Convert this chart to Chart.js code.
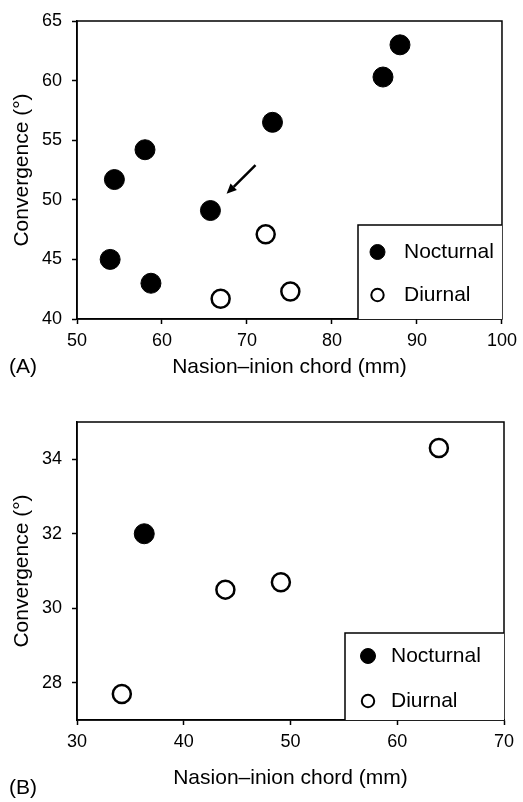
<!DOCTYPE html>
<html>
<head>
<meta charset="utf-8">
<script src="https://cdn.jsdelivr.net/npm/chart.js@4.4.1/dist/chart.umd.min.js"></script>
<style>
  html, body { margin: 0; padding: 0; background: #fff; }
  canvas { display: block; }
</style>
</head>
<body>
<canvas id="chartA" width="523" height="400"></canvas>
<canvas id="chartB" width="523" height="402"></canvas>
<script>
// ── Panel A ──────────────────────────────────────────────
const nocturnalAX = [53.9, 54.4, 58.0, 58.7, 65.7, 73.0, 86.0, 88.0];
const nocturnalAY = [45.0, 51.7, 54.2, 43.0, 49.1, 56.5, 60.3, 63.0];
const diurnalAX = [66.9, 72.2, 75.1];
const diurnalAY = [41.7, 47.1, 42.3];
const xTicksA = [50, 60, 70, 80, 90, 100];
const yTicksA = [40, 45, 50, 55, 60, 65];
const arrowA = [[71.0, 52.9], [67.6, 50.5]]; // tail, head (data units)

// ── Panel B ──────────────────────────────────────────────
const nocturnalBX = [36.3];
const nocturnalBY = [32.0];
const diurnalBX = [34.2, 43.9, 49.1, 63.9];
const diurnalBY = [27.7, 30.5, 30.7, 34.3];
const xTicksB = [30, 40, 50, 60, 70];
const yTicksB = [28, 30, 32, 34];

const seriesNames = ['Nocturnal', 'Diurnal'];
const xTitle = 'Nasion–inion chord (mm)';
const yTitle = 'Convergence (°)';

const FONT = '"Liberation Sans", Arial, Helvetica, sans-serif';
const pts = (xs, ys) => xs.map((x, i) => ({ x, y: ys[i] }));

// frame, arrow, legend box, panel letter
const decor = {
  id: 'decor',
  afterDatasetsDraw(chart, args, o) {
    const { ctx, chartArea: a, scales: { x, y } } = chart;
    ctx.save();
    ctx.strokeStyle = '#000';
    ctx.lineWidth = 1.5;
    ctx.strokeRect(a.left, a.top, a.right - a.left, a.bottom - a.top);

    if (o.arrow) {
      const x0 = x.getPixelForValue(o.arrow[0][0]), y0 = y.getPixelForValue(o.arrow[0][1]);
      const x1 = x.getPixelForValue(o.arrow[1][0]), y1 = y.getPixelForValue(o.arrow[1][1]);
      const ang = Math.atan2(y1 - y0, x1 - x0), hl = 10, hw = 4.5;
      const bx = x1 - hl * Math.cos(ang), by = y1 - hl * Math.sin(ang);
      ctx.lineWidth = 2.5;
      ctx.beginPath(); ctx.moveTo(x0, y0); ctx.lineTo(bx, by); ctx.stroke();
      ctx.fillStyle = '#000';
      ctx.beginPath();
      ctx.moveTo(x1, y1);
      ctx.lineTo(bx + hw * Math.sin(ang), by - hw * Math.cos(ang));
      ctx.lineTo(bx - hw * Math.sin(ang), by + hw * Math.cos(ang));
      ctx.closePath(); ctx.fill();
    }

    // legend box
    const L = o.legend;
    ctx.fillStyle = '#fff';
    ctx.fillRect(L.left, L.top, a.right - L.left, a.bottom - L.top);
    ctx.lineWidth = 1.5;
    ctx.beginPath();
    ctx.moveTo(L.left, a.bottom); ctx.lineTo(L.left, L.top); ctx.lineTo(a.right, L.top);
    ctx.stroke();
    ctx.font = '21px ' + FONT;
    ctx.textBaseline = 'middle';
    chart.data.datasets.forEach((ds, i) => {
      const cy = L.top + L.rows[i];
      ctx.beginPath();
      ctx.arc(L.left + L.mark, cy, i === 0 ? 7.5 : 6.2, 0, Math.PI * 2);
      ctx.fillStyle = ds.backgroundColor; ctx.fill();
      ctx.lineWidth = i === 0 ? 1 : 2; ctx.strokeStyle = '#000'; ctx.stroke();
      ctx.fillStyle = '#000';
      ctx.fillText(ds.label, L.left + L.text, cy);
    });

    // panel letter
    ctx.font = '21px ' + FONT;
    ctx.fillText(o.letter, 9, o.letterY);
    ctx.restore();
  }
};

function makeChart(id, d) {
  return new Chart(document.getElementById(id), {
    type: 'scatter',
    data: {
      datasets: [
        { label: seriesNames[0], data: pts(d.nx, d.ny), backgroundColor: '#000', borderColor: '#000',
          borderWidth: 1, pointRadius: 10 },
        { label: seriesNames[1], data: pts(d.dx, d.dy), backgroundColor: '#fff', borderColor: '#000',
          borderWidth: 2.5, pointRadius: 9 }
      ]
    },
    options: {
      responsive: false, animation: false, events: [],
      layout: { padding: { top: d.padTop, right: d.padRight, left: 0, bottom: 0 } },
      plugins: {
        legend: { display: false }, tooltip: { enabled: false },
        decor: { arrow: d.arrow, legend: d.legend, letter: d.letter, letterY: d.letterY }
      },
      scales: {
        x: {
          type: 'linear', min: d.xTicks[0], max: d.xTicks[d.xTicks.length - 1],
          afterBuildTicks: s => { s.ticks = d.xTicks.map(v => ({ value: v })); },
          afterFit: s => { s.height = d.xHeight; },
          grid: { drawOnChartArea: false, tickLength: 5, tickColor: '#000', tickWidth: 1.5 },
          border: { color: '#000', width: 1.5 },
          ticks: { color: '#000', font: { family: FONT, size: 18 }, padding: 6, maxRotation: 0 },
          title: { display: true, text: xTitle, color: '#000', font: { family: FONT, size: 21 },
                   padding: { top: 0, bottom: d.xTitlePad } }
        },
        y: {
          type: 'linear', min: d.yMin, max: d.yMax,
          afterBuildTicks: s => { s.ticks = d.yTicks.map(v => ({ value: v })); },
          afterFit: s => { s.width = 77; },
          grid: { drawOnChartArea: false, tickLength: 5, tickColor: '#000', tickWidth: 1.5 },
          border: { color: '#000', width: 1.5 },
          ticks: { color: '#000', font: { family: FONT, size: 18 }, padding: 10 },
          title: { display: true, text: yTitle, color: '#000', font: { family: FONT, size: 21 },
                   padding: { top: 10, bottom: 0 } }
        }
      }
    },
    plugins: [decor]
  });
}

makeChart('chartA', {
  nx: nocturnalAX, ny: nocturnalAY, dx: diurnalAX, dy: diurnalAY,
  xTicks: xTicksA, yTicks: yTicksA, yMin: 40, yMax: 65,
  padTop: 21, padRight: 18, xHeight: 81, xTitlePad: 20,
  arrow: arrowA,
  legend: { left: 358, top: 225, mark: 19.5, text: 46, rows: [27, 70] },
  letter: '(A)', letterY: 367
});

makeChart('chartB', {
  nx: nocturnalBX, ny: nocturnalBY, dx: diurnalBX, dy: diurnalBY,
  xTicks: xTicksB, yTicks: yTicksB, yMin: 27, yMax: 35,
  padTop: 22, padRight: 19, xHeight: 82, xTitlePad: 11,
  arrow: null,
  legend: { left: 345, top: 233, mark: 23, text: 46, rows: [23, 68] },
  letter: '(B)', letterY: 388
});
</script>
</body>
</html>
